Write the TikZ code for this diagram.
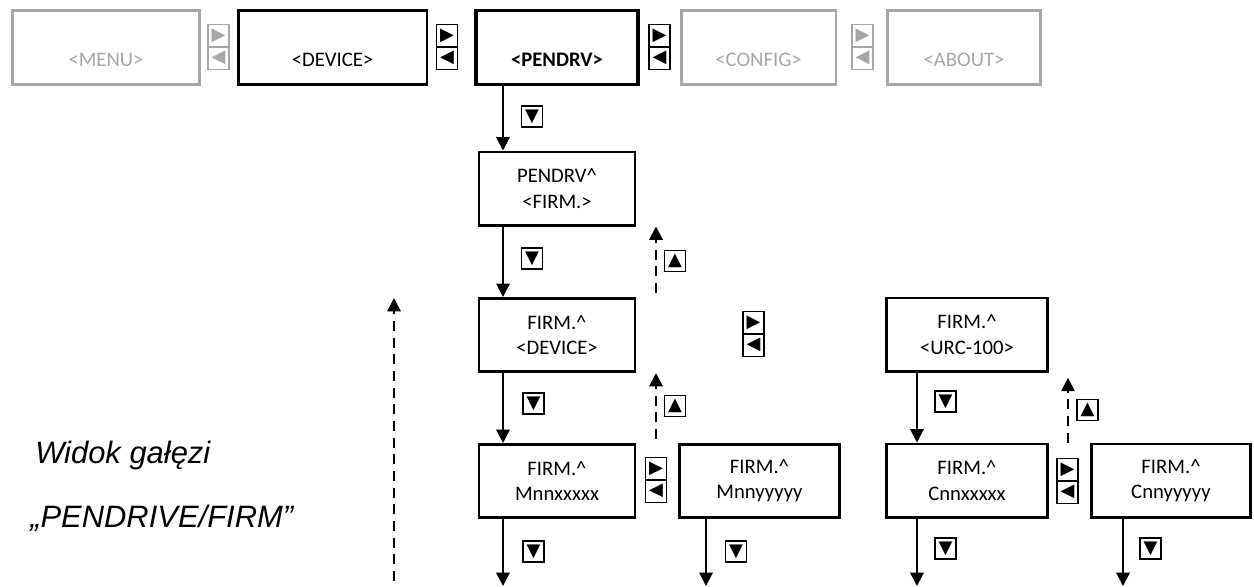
\documentclass[tikz,border=0pt]{standalone}
\usepackage{fontspec}
\setmainfont{Carlito}
\newfontfamily\notefont{Liberation Sans}
\newfontfamily\keyfont{DejaVu Sans}
\usetikzlibrary{arrows.meta}
\definecolor{offgray}{RGB}{166,166,166}
\tikzset{%
	>={Triangle[width=10pt,length=10pt]},
	% Specifications for style of nodes:
	base/.style = {rectangle, draw=black, line width=2pt, align=center,
		inner sep=0pt, font=\fontsize{15.5}{19}\selectfont},
	menubox/.style = {base, minimum height=55.5pt, text height=29.2pt, text depth=0pt},
	menuoff/.style = {menubox, draw=offgray, text=offgray},
	menuon/.style = {menubox, line width=2.5pt,
		font=\fontsize{15.5}{19}\selectfont\bfseries},
	screen/.style = {base, minimum width=117pt, minimum height=55pt},
	key/.style = {rectangle, draw=black, line width=1.2pt, inner sep=0pt,
		minimum width=16pt, minimum height=16pt,
		font=\keyfont\fontsize{13.5}{13.5}\selectfont},
	keypair/.style = {key, minimum height=33.5pt, align=center,
		font=\keyfont\fontsize{13.5}{16.5}\selectfont},
	keyoff/.style = {keypair, draw=offgray, text=offgray},
	note/.style = {anchor=base west, inner sep=0pt,
		font=\notefont\fontsize{23.2}{27}\selectfont\itshape},
	flow/.style = {->, line width=1.5pt},
	back/.style = {->, line width=1.5pt, dash pattern=on 7.5pt off 5pt},
}

\begin{document}
\begin{tikzpicture}[x=0.75pt, y=-0.75pt]
	\useasboundingbox (0,0) rectangle (1254,586);

	% Top menu row
	\node (menu)   [menuoff, minimum width=140.5pt] at (106,47.5)   {<MENU>};
	\node (device) [menubox, minimum width=141.5pt] at (332.5,47.5) {<DEVICE>};
	\node (pendrv) [menuon,  minimum width=121.5pt] at (557,47.5)   {<PENDRV>};
	\node (config) [menuoff, minimum width=116pt]   at (758.5,47.5) {<CONFIG>};
	\node (about)  [menuoff, minimum width=115pt]   at (964,47.5)   {<ABOUT>};

	\node (kmenu)   [keyoff]  at (218.5,47) {▶\\◀};
	\node (kdevice) [keypair] at (447,47)   {▶\\◀};
	\node (kpendrv) [keypair] at (659.5,47) {▶\\◀};
	\node (kconfig) [keyoff]  at (862.5,47) {▶\\◀};

	% Screens of the branch
	\node (pendrvfirm) [screen] at (557,188.5) {PENDRV\textasciicircum\\<FIRM.>};
	\node (firmdev)    [screen] at (557,335)   {FIRM.\textasciicircum\\<DEVICE>};
	\node (firmurc)    [screen, minimum width=121pt] at (967,334.5) {FIRM.\textasciicircum\\<URC-100>};
	\node (mnnx) [screen] at (557,481)    {FIRM.\textasciicircum\\Mnnxxxxx};
	\node (mnny) [screen, minimum width=120pt] at (759.5,481) {FIRM.\textasciicircum\\Mnnyyyyy};
	\node (cnnx) [screen, minimum width=121pt] at (967,480.5) {FIRM.\textasciicircum\\Cnnxxxxx};
	\node (cnny) [screen, minimum width=119.5pt] at (1171,480.5) {FIRM.\textasciicircum\\Cnnyyyyy};

	% Keys
	\node (kdown1) [key] at (532,116.5)    {▼};
	\node (kdown2) [key] at (532,258.5)    {▼};
	\node (kdown3) [key] at (533.5,403.5)  {▼};
	\node (kdown4) [key] at (533.5,551.5)  {▼};
	\node (kdown5) [key] at (736,551.5)    {▼};
	\node (kdown6) [key] at (945.5,401.5)  {▼};
	\node (kdown7) [key] at (945.5,548.5)  {▼};
	\node (kdown8) [key] at (1150.5,548.5) {▼};
	\node (kup1) [key] at (675,261)    {▲};
	\node (kup2) [key] at (675,406)    {▲};
	\node (kup3) [key] at (1087.5,410) {▲};
	\node (kmnn)  [keypair] at (656,480)    {▶\\◀};
	\node (kfirm) [keypair] at (753.5,334)  {▶\\◀};
	\node (kcnn)  [keypair] at (1067.5,481) {▶\\◀};

	\foreach \k in {kdevice, kpendrv, kmnn, kfirm, kcnn}
		\draw[line width=1.2pt] (\k.west) -- (\k.east);
	\foreach \k in {kmenu, kconfig}
		\draw[line width=1.2pt, offgray] (\k.west) -- (\k.east);

	\node (title1) [note] at (35,463) {Widok gałęzi};
	\node (title2) [note] at (30,527) {„PENDRIVE/FIRM”};

	% Free ends of the connectors
	\coordinate (endA) at (503,586);
	\coordinate (endB) at (706,586);
	\coordinate (endC) at (917,586);
	\coordinate (endD) at (1123,586);
	\coordinate (upA) at (656,0);
	\coordinate (upB) at (1068,0);
	\coordinate (backlow)  at (394,581);
	\coordinate (backhigh) at (394,298);

	\draw[flow] (pendrv.south -| endA) -- (pendrvfirm.north -| endA);
	\draw[flow] (pendrvfirm.south -| endA) -- (firmdev.north -| endA);
	\draw[flow] (firmdev.south -| endA) -- (mnnx.north -| endA);
	\draw[flow] (mnnx.south -| endA) -- (endA);
	\draw[flow] (mnny.south -| endB) -- (endB);
	\draw[flow] (firmurc.south -| endC) -- (cnnx.north -| endC);
	\draw[flow] (cnnx.south -| endC) -- (endC);
	\draw[flow] (cnny.south -| endD) -- (endD);

	\draw[back] ([yshift=3pt]firmdev.north -| upA) -- (pendrvfirm.south -| upA);
	\draw[back] ([yshift=3pt]mnnx.north -| upA) -- (firmdev.south -| upA);
	\draw[back] (cnnx.north -| upB) -- ([yshift=-4pt]firmurc.south -| upB);
	\draw[back] (backlow) -- (backhigh);

\end{tikzpicture}
\end{document}
